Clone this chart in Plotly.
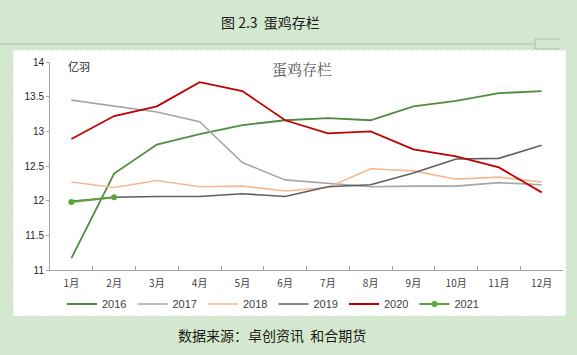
import plotly.graph_objects as go

months = ["1月", "2月", "3月", "4月", "5月", "6月", "7月", "8月", "9月", "10月", "11月", "12月"]
y2016 = [11.17, 12.39, 12.81, 12.96, 13.09, 13.16, 13.19, 13.16, 13.36, 13.44, 13.55, 13.58]
y2017 = [13.45, 13.36, 13.28, 13.14, 12.55, 12.30, 12.25, 12.20, 12.21, 12.21, 12.26, 12.23]
y2018 = [12.27, 12.19, 12.29, 12.20, 12.21, 12.14, 12.19, 12.46, 12.43, 12.31, 12.34, 12.27]
y2019 = [11.99, 12.05, 12.06, 12.06, 12.10, 12.06, 12.20, 12.23, 12.40, 12.60, 12.61, 12.80]
y2020 = [12.89, 13.22, 13.36, 13.71, 13.58, 13.16, 12.97, 13.00, 12.74, 12.64, 12.48, 12.12]
y2021 = [11.98, 12.05]

series = [
    ("2016", y2016, "#4f8c3f", 1.8),
    ("2017", y2017, "#a6a6a6", 1.6),
    ("2018", y2018, "#f5b98f", 1.6),
    ("2019", y2019, "#5f5f5f", 1.6),
    ("2020", y2020, "#c00000", 1.8),
]

fig = go.Figure()
for name, ys, col, w in series:
    fig.add_trace(go.Scatter(x=months, y=ys, name=name, mode="lines",
                             line=dict(color=col, width=w)))
fig.add_trace(go.Scatter(x=months[:len(y2021)], y=y2021, name="2021", mode="lines+markers",
                         line=dict(color="#5aa63a", width=2),
                         marker=dict(color="#5aa63a", size=6)))

L, R, T, B = 50, 563, 62, 270
W, H = 577, 355

def px(x):
    return (x - L) / (R - L)

def py(y):
    return (B - y) / (B - T)

shapes = [
    dict(type="rect", xref="paper", yref="paper", x0=px(13), x1=px(566), y0=py(316), y1=py(50),
         fillcolor="white", line=dict(color="#dcdcdc", width=1, dash="dot"), layer="below"),
    dict(type="line", xref="paper", yref="paper", x0=px(0), x1=px(534), y0=py(44), y1=py(44),
         line=dict(color="#a9c3a5", width=1)),
    dict(type="line", xref="paper", yref="paper", x0=px(535), x1=px(560), y0=py(39), y1=py(39),
         line=dict(color="#a9c3a5", width=1)),
    dict(type="line", xref="paper", yref="paper", x0=px(535), x1=px(535), y0=py(39), y1=py(49),
         line=dict(color="#a9c3a5", width=1)),
    dict(type="line", xref="paper", yref="paper", x0=px(535), x1=px(560), y0=py(49), y1=py(49),
         line=dict(color="#a9c3a5", width=1)),
]

cjk = "Noto Sans CJK SC"
annotations = [
    dict(text="图 2.3  蛋鸡存栏", xref="paper", yref="paper", x=px(270), y=py(22),
         xanchor="center", yanchor="middle",
         showarrow=False, font=dict(family=cjk, size=14, color="#1a1a1a")),
    dict(text="蛋鸡存栏", xref="paper", yref="paper", x=px(302), y=py(68),
         xanchor="center", yanchor="middle",
         showarrow=False, font=dict(family="Noto Serif CJK SC, " + cjk, size=15, color="#595959")),
    dict(text="亿羽", xref="paper", yref="paper", x=px(66), y=py(66),
         xanchor="left", yanchor="middle",
         showarrow=False, font=dict(family=cjk, size=11, color="#262626")),
    dict(text="数据来源：卓创资讯  和合期货", xref="paper", yref="paper", x=px(272), y=py(335),
         xanchor="center", yanchor="middle",
         showarrow=False, font=dict(family=cjk, size=14, color="#1a1a1a")),
]

fig.update_layout(
    width=W, height=H,
    margin=dict(l=L, r=W - R, t=T, b=H - B),
    paper_bgcolor="#d4e8cf",
    plot_bgcolor="white",
    showlegend=True,
    legend=dict(orientation="h", x=px(62), y=py(304), xanchor="left", yanchor="middle",
                entrywidth=25.5, entrywidthmode="pixels", itemwidth=30,
                font=dict(family="Liberation Sans", size=11, color="#404040"),
                bgcolor="rgba(0,0,0,0)", tracegroupgap=0),
    shapes=shapes,
    annotations=annotations,
    xaxis=dict(type="category", range=[-0.5, 11.5], showgrid=False, showline=True,
               linecolor="#a6a6a6", linewidth=1, ticks="inside", ticklen=4, tickcolor="#a6a6a6",
               tickson="boundaries", ticklabelstandoff=4,
               tickfont=dict(family=cjk, size=10, color="#404040"),
               zeroline=False),
    yaxis=dict(range=[11, 14], dtick=0.5, showgrid=False, showline=True,
               linecolor="#a6a6a6", linewidth=1, ticks="outside", ticklen=3, tickcolor="#a6a6a6",
               tickfont=dict(family="Liberation Sans", size=10, color="#262626"),
               zeroline=False),
)

fig.write_html("out.html")
